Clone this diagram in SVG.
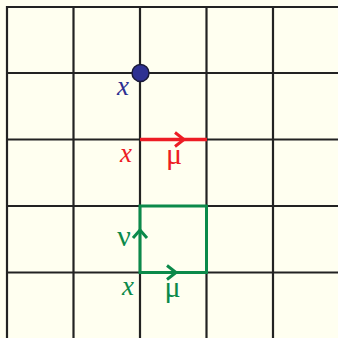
<svg xmlns="http://www.w3.org/2000/svg" width="338" height="338" viewBox="0 0 338 338">
<style>
.grid line{stroke:#222;stroke-width:2.2}
.lbl{font-family:"Liberation Serif","DejaVu Serif",serif;font-size:27px}
.gr{font-size:30px}
.it{font-style:italic}
.chev{fill:none;stroke-width:3;stroke-linecap:butt;stroke-linejoin:miter}
</style>
<rect width="338" height="338" fill="#FFFFF0"/>
<g id="grid" class="grid">
<line x1="7" y1="6" x2="7" y2="338"/>
<line x1="73.5" y1="7" x2="73.5" y2="338"/>
<line x1="140" y1="7" x2="140" y2="338"/>
<line x1="206.5" y1="7" x2="206.5" y2="338"/>
<line x1="273" y1="7" x2="273" y2="338"/>
<line x1="6" y1="7" x2="338" y2="7"/>
<line x1="7" y1="73" x2="338" y2="73"/>
<line x1="7" y1="139.5" x2="338" y2="139.5"/>
<line x1="7" y1="206" x2="338" y2="206"/>
<line x1="7" y1="272.5" x2="338" y2="272.5"/>
</g>
<g id="site">
<circle cx="140.5" cy="73" r="8.5" fill="#2E3192" stroke="#1a1a3a" stroke-width="1.5"/>
<text class="lbl it" x="123" y="95" text-anchor="middle" fill="#2E3192">x</text>
</g>
<g id="connectors">
<g id="link">
<line x1="140" y1="139.5" x2="207" y2="139.5" stroke="#ED1C24" stroke-width="3.5"/>
<polyline class="chev" points="175,132.5 184,139.5 175,146.5" stroke="#ED1C24"/>
<text class="lbl it" x="126" y="162" text-anchor="middle" fill="#ED1C24">x</text>
<text class="lbl gr" x="174" y="164" text-anchor="middle" fill="#ED1C24">μ</text>
</g>
<g id="plaquette">
<rect x="140" y="206" width="66.5" height="66.5" fill="none" stroke="#0B8A4A" stroke-width="3"/>
<polyline class="chev" points="133,238 140,230 147,238" stroke="#0B8A4A"/>
<polyline class="chev" points="167,265.5 176,272.5 167,279.5" stroke="#0B8A4A"/>
<text class="lbl gr" x="124" y="246" text-anchor="middle" fill="#0B8A4A">ν</text>
<text class="lbl it" x="128" y="295" text-anchor="middle" fill="#0B8A4A">x</text>
<text class="lbl gr" x="172.5" y="297" text-anchor="middle" fill="#0B8A4A">μ</text>
</g>
</g>
</svg>
